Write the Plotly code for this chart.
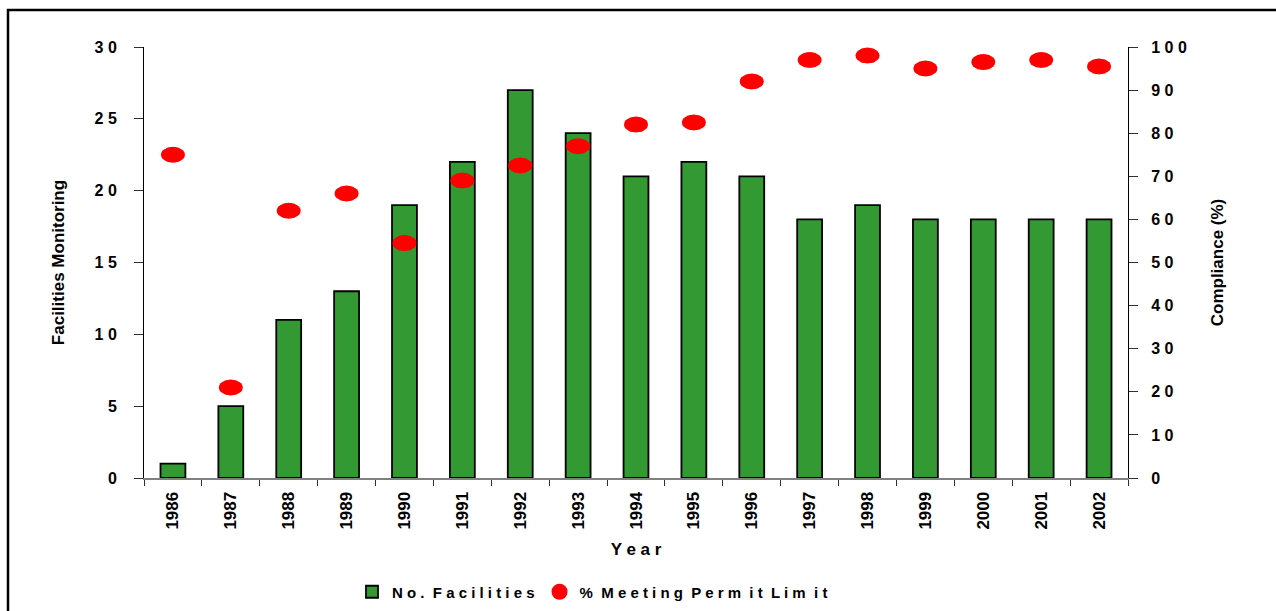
import plotly.graph_objects as go

years = ["1986", "1987", "1988", "1989", "1990", "1991", "1992", "1993", "1994",
         "1995", "1996", "1997", "1998", "1999", "2000", "2001", "2002"]
facilities = [1, 5, 11, 13, 19, 22, 27, 24, 21, 22, 21, 18, 19, 18, 18, 18, 18]
compliance = [75, 21, 62, 66, 54.5, 69, 72.5, 77, 82, 82.5, 92, 97, 98, 95, 96.5, 97, 95.5]

left_ticks = [0, 5, 10, 15, 20, 25, 30]
right_ticks = [0, 10, 20, 30, 40, 50, 60, 70, 80, 90, 100]

def spaced(v):
    return " ".join(str(v))

NB = "\u00a0"
bar_name = "N o ." + NB * 2 + "F a c i l i t i e s"
pt_name = ("%" + NB * 2 + "M e e t i n g" + NB * 2 + "P e r m" + NB + " i t"
           + NB * 2 + "L i m" + NB + " i t")

FONT = "Liberation Sans, Arial, sans-serif"
def bf(size):
    return dict(family=FONT, size=size, color="black", weight="bold")

fig = go.Figure()
fig.add_trace(go.Bar(
    x=years, y=facilities, name=bar_name,
    marker=dict(color="#339933", line=dict(color="black", width=1.8)),
    width=0.43,
))
# overlapping circles, grouped side by side, build the elliptical marker
sizes = [12, 15, 16, 15, 12]
for i, sz in enumerate(sizes):
    fig.add_trace(go.Scatter(
        x=years, y=compliance, name=pt_name,
        yaxis="y2", mode="markers", offsetgroup="g%d" % i, alignmentgroup="pts",
        showlegend=(i == 2), hoverinfo=None if i == 2 else "skip",
        marker=dict(color="#FF0000", size=sz, symbol="circle", line=dict(width=0)),
    ))

tick_common = dict(tickcolor="#303030", tickwidth=1, showgrid=False, zeroline=False,
                   automargin=False)

fig.update_layout(
    width=1276, height=611,
    margin=dict(l=144, r=148, t=47, b=133, autoexpand=False),
    paper_bgcolor="white", plot_bgcolor="white",
    font=bf(16),
    scattermode="group", scattergap=0.741,
    showlegend=True,
    legend=dict(orientation="h", x=(352 - 144) / 984, xanchor="left",
                y=(478 - 592) / 431, yanchor="middle",
                font=bf(15), tracegroupgap=0, traceorder="normal"),
    xaxis=dict(
        type="category", range=[-0.5, 16.5], tickson="boundaries",
        ticks="outside", ticklen=6,
        showline=True, linecolor="#808080", linewidth=2,
        tickangle=-90, tickfont=bf(17), ticklabelstandoff=5,
        title=dict(text="Y e a r", font=bf(17), standoff=14),
        **tick_common,
    ),
    xaxis2=dict(
        type="category", categoryarray=years, range=[-0.5, 16.5], tickson="boundaries",
        overlaying="x", side="bottom", anchor="y", ticks="inside", ticklen=5,
        showticklabels=False, showline=False, **tick_common,
    ),
    yaxis=dict(
        range=[0, 30], tickvals=left_ticks, ticktext=[spaced(v) for v in left_ticks],
        ticks="outside", ticklen=9,
        showline=True, linecolor="black", linewidth=1,
        tickfont=bf(16), ticklabelstandoff=14,
        title=dict(text="Facilities Monitoring", font=bf(17), standoff=25),
        **tick_common,
    ),
    yaxis3=dict(
        range=[0, 30], tickvals=left_ticks, overlaying="y", side="left",
        ticks="inside", ticklen=9, showticklabels=False, showline=False,
        **tick_common,
    ),
    yaxis2=dict(
        range=[0, 100], tickvals=right_ticks, ticktext=[spaced(v) for v in right_ticks],
        overlaying="y", side="right",
        ticks="outside", ticklen=9,
        showline=True, linecolor="black", linewidth=1, ticklabelstandoff=10,
        tickfont=bf(16),
        title=dict(text="Compliance (%)", font=bf(17), standoff=25),
        **tick_common,
    ),
    yaxis4=dict(
        range=[0, 100], tickvals=right_ticks, overlaying="y", side="right",
        ticks="inside", ticklen=9, showticklabels=False, showline=False,
        **tick_common,
    ),
    shapes=[dict(type="rect", xref="paper", yref="paper",
                 x0=(8 - 144) / 984, x1=1.2, y0=-0.4, y1=(478 - 10) / 431,
                 line=dict(color="black", width=2.5), fillcolor="rgba(0,0,0,0)",
                 layer="below")],
)

fig.write_html("out.html")
